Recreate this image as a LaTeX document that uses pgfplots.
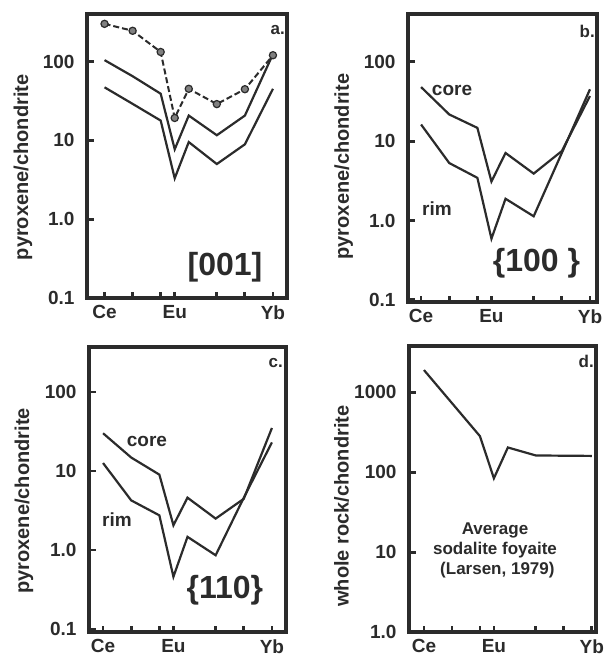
\documentclass[border=0pt]{standalone}
\usepackage{fontspec}
\setmainfont{Liberation Sans}
\usepackage{pgfplots}
\pgfplotsset{compat=1.18}
\definecolor{ink}{HTML}{2B2B2B}
\newcommand\tickfont{\fontsize{19}{22}\selectfont\bfseries}
\pgfplotsset{
  every axis/.append style={
    scale only axis, ymode=log, log basis y=10,
    axis line style={line width=3.5pt, ink},
    xtick={0,2,4,5,8,10,12},
    xticklabels={Ce,,,Eu,,,Yb},
    tick align=inside, xtick pos=bottom, ytick pos=left,
    yminorticks=false,
    major tick length=6.5pt,
    xtick style={draw=ink, line width=2.8pt},
    ytick style={draw=ink, line width=2.8pt},
    tick label style={font=\tickfont, text=ink},
    xticklabel style={yshift=-4pt},
    yticklabel style={xshift=-9pt},
    ylabel style={font=\fontsize{20}{24}\selectfont\bfseries, text=ink, anchor=center, rotate=0},
  },
  ln/.style={ink, line width=2.2pt, mark=none},
}
\tikzset{
  corner/.style={font=\fontsize{17}{19}\selectfont\bfseries, text=ink, anchor=base east, inner sep=0pt},
  bigt/.style={font=\fontsize{32}{36}\selectfont\bfseries, text=ink, anchor=center},
  crt/.style={font=\fontsize{19}{22}\selectfont\bfseries, text=ink, anchor=center},
}
\begin{document}
\begin{tikzpicture}
\useasboundingbox (0,0) rectangle (611pt,-659pt);
% ---------------- panel a
\begin{axis}[at={(87pt,-298pt)}, anchor=south west,
  width=200pt, height=284pt, xmin=-1.25, xmax=13, ymin=0.1, ymax=400,
  ytick={0.1,1,10,100}, yticklabels={0.1,1.0,10,100},
  ylabel={pyroxene/chondrite},
  ylabel style={at={(axis description cs:-0.32,0.46)}}]
\addplot[ink, line width=2pt, dash pattern=on 6pt off 3pt, mark=*, mark size=3.6pt,
  mark options={solid, fill=gray, draw=ink, line width=1.2pt}] coordinates {
  (0,300) (2,245) (4,132) (5,19.2) (6,45) (8,28.8) (10,44.5) (12,120)};
\addplot[ln] coordinates {(0,104) (2,65) (4,39) (5,7.7) (6,20.6) (8,11.6) (10,20.6) (12,124)};
\addplot[ln] coordinates {(0,47) (2,29) (4,17.8) (5,3.3) (6,9.5) (8,5.0) (10,8.9) (12,45)};
\node[corner] at (rel axis cs:1,1) [xshift=-2pt, yshift=-21pt] {a.};
\node[bigt] at (rel axis cs:0.69,0.11) {[001]};
\end{axis}
% ---------------- panel b
\begin{axis}[at={(408pt,-302pt)}, anchor=south west,
  width=189pt, height=288pt, xmin=-0.93, xmax=12.5, ymin=0.094, ymax=400,
  ytick={0.1,1,10,100}, yticklabels={0.1,1.0,10,100},
  ylabel={pyroxene/chondrite},
  ylabel style={at={(axis description cs:-0.34,0.47)}}]
\addplot[ln] coordinates {(0,48) (2,21.7) (4,14.7) (5,3.1) (6,7.1) (8,3.9) (10,7.5) (12,37)};
\addplot[ln] coordinates {(0,16.2) (2,5.3) (4,3.45) (5,0.59) (6,1.88) (8,1.13) (10,7.1) (12,45)};
\node[corner] at (rel axis cs:1,1) [xshift=-2pt, yshift=-23pt] {b.};
\node[crt] at (rel axis cs:0.233,0.736) {core};
\node[crt] at (rel axis cs:0.153,0.326) {rim};
\node[bigt] at (rel axis cs:0.68,0.135) {\{100 \}};
\end{axis}
% ---------------- panel c
\begin{axis}[at={(89pt,-632pt)}, anchor=south west,
  width=197pt, height=285pt, xmin=-1.0, xmax=13, ymin=0.092, ymax=370,
  ytick={0.1,1,10,100}, yticklabels={0.1,1.0,10,100},
  ylabel={pyroxene/chondrite},
  ylabel style={at={(axis description cs:-0.33,0.46)}}]
\addplot[ln] coordinates {(0,30) (2,14.8) (4,9) (5,2.06) (6,4.6) (8,2.5) (10,4.45) (12,35)};
\addplot[ln] coordinates {(0,12.6) (2,4.25) (4,2.75) (5,0.46) (6,1.47) (8,0.86) (10,4.6) (12,23)};
\node[corner] at (rel axis cs:1,1) [xshift=-3pt, yshift=-20pt] {c.};
\node[crt] at (rel axis cs:0.294,0.667) {core};
\node[crt] at (rel axis cs:0.142,0.393) {rim};
\node[bigt] at (rel axis cs:0.69,0.147) {\{110\}};
\end{axis}
% ---------------- panel d
\begin{axis}[at={(409pt,-632pt)}, anchor=south west,
  width=187pt, height=286pt, xmin=-1.07, xmax=12.3, ymin=1, ymax=3800,
  ytick={1,10,100,1000}, yticklabels={1.0,10,100,1000},
  ylabel={whole rock/chondrite},
  ylabel style={at={(axis description cs:-0.36,0.44)}}]
\addplot[ln] coordinates {(0,1900) (4,283) (5,84) (6,204) (8,162) (12,160)};
\node[corner] at (rel axis cs:1,1) [xshift=-2pt, yshift=-21pt] {d.};
\node[font=\fontsize{17}{20}\selectfont\bfseries, text=ink, align=center]
  at (rel axis cs:0.46,0.287) {Average\\sodalite foyaite\\\ (Larsen, 1979)};
\end{axis}
\end{tikzpicture}
\end{document}
